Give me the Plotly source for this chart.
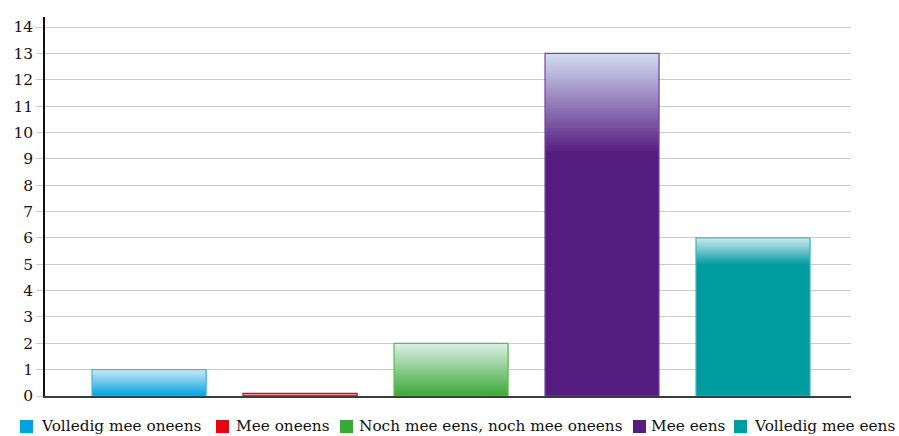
import plotly.graph_objects as go

# Data
categories = ["Volledig mee oneens", "Mee oneens", "Noch mee eens, noch mee oneens",
              "Mee eens", "Volledig mee eens"]
values = [1, 0.1, 2, 13, 6]

# Style
base_colors = ["#00a2e0", "#e30613", "#3aa934", "#561d80", "#009ca0"]
top_colors = ["#cbe9f8", "#f4b8bb", "#dcefe9", "#d2def2", "#cdeaee"]
edge_colors = ["#3cb6ec", "#e30613", "#5cbd4c", "#7346a0", "#3cb5b9"]
gradient_frac = [1.0, 1.0, 1.0, 0.29, 0.17]
n_slices = 40

# legend layout (pixels in the 899x436 page)
legend_square_x = [20, 216, 340, 633, 734]
legend_text_x = [39, 234, 357, 649, 752]
W, H = 899, 436
M = dict(l=45, r=48, t=17, b=40)


def hex_to_rgb(h):
    h = h.lstrip("#")
    return tuple(int(h[i:i + 2], 16) for i in (0, 2, 4))


def mix(c1, c2, t):
    a, b = hex_to_rgb(c1), hex_to_rgb(c2)
    return "rgb({},{},{})".format(*[round(a[i] + (b[i] - a[i]) * t) for i in range(3)])


def px_x(px):
    return (px - M["l"]) / (W - M["l"] - M["r"])


def px_y(py):
    return (H - M["b"] - py) / (H - M["t"] - M["b"])


fig = go.Figure()

for cat, val, c0, c1, edge, frac in zip(categories, values, base_colors, top_colors,
                                        edge_colors, gradient_frac):
    solid_h = val * (1 - frac)
    fig.add_trace(go.Bar(x=[cat], y=[val], base=[0], name=cat,
                         marker=dict(color=c0, line=dict(width=0))))
    # gradient upper part: each slice runs up to the top, later ones paint over
    step = val * frac / n_slices
    for k in range(n_slices):
        t = (k + 0.5) / n_slices
        b0 = solid_h + k * step
        fig.add_trace(go.Bar(x=[cat], y=[val - b0], base=[b0], hoverinfo="skip",
                             marker=dict(color=mix(c0, c1, t), line=dict(width=0))))
    # outline
    fig.add_trace(go.Bar(x=[cat], y=[val], base=[0], hoverinfo="skip",
                         marker=dict(color="rgba(0,0,0,0)", line=dict(color=edge, width=1.2))))

# legend drawn by hand to match the compact original
for cat, c0, sx, tx in zip(categories, base_colors, legend_square_x, legend_text_x):
    fig.add_shape(type="rect", xref="paper", yref="paper",
                  x0=px_x(sx), x1=px_x(sx + 13), y0=px_y(433), y1=px_y(420),
                  fillcolor=c0, line=dict(width=0))
    fig.add_annotation(text=cat, xref="paper", yref="paper", x=px_x(tx), y=px_y(426),
                       xanchor="left", yanchor="middle", showarrow=False,
                       font=dict(size=15.3, color="#111111"))

fig.update_layout(
    width=W, height=H,
    barmode="overlay", bargap=0.245,
    plot_bgcolor="white", paper_bgcolor="white",
    margin=M,
    font=dict(family="DejaVu Serif", size=14, color="#111111"),
    showlegend=False,
)
fig.update_xaxes(type="category", range=[-0.689, 4.649], showticklabels=False,
                 showgrid=False, showline=True, linecolor="#3c3c3c", linewidth=2,
                 ticks="", zeroline=False)
fig.update_yaxes(range=[0, 14.38], dtick=1, tick0=0, showgrid=True, gridcolor="#cccccc",
                 gridwidth=1, ticks="outside", ticklen=7, tickcolor="#cccccc",
                 showline=True, linecolor="#111111", linewidth=1.5, zeroline=False,
                 tickfont=dict(size=15.5, color="#111111"))

fig.write_html("out.html", config={"displayModeBar": False},
               post_script="document.body.style.margin='0';")
